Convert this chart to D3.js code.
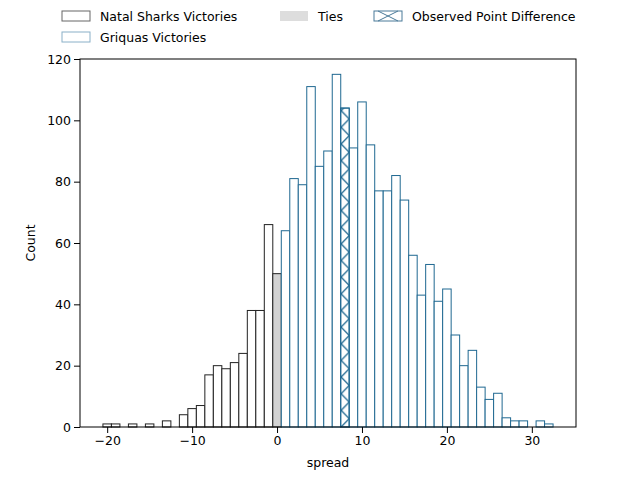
<!DOCTYPE html>
<html><head><meta charset="utf-8">
<script src="https://cdn.jsdelivr.net/npm/d3@7"></script>
<style>body{margin:0;background:#fff}text{font-family:"DejaVu Sans",sans-serif}</style>
</head><body><div id="chart"></div>
<script>
const sharkSpread = [-20,-19,-17,-15,-13,-11,-10,-9,-8,-7,-6,-5,-4,-3,-2,-1];
const sharkCount  = [1,1,1,1,2,4,6,7,17,20,19,21,24,38,38,66];
const tieSpread = [0];
const tieCount = [50];
const griquaSpread = [1,2,3,4,5,6,7,8,9,10,11,12,13,14,15,16,17,18,19,20,21,22,23,24,25,26,27,28,29,31,32];
const griquaCount  = [64,81,79,111,85,90,115,104,91,106,92,77,77,82,74,56,43,53,41,45,30,20,25,13,9,11,3,2,2,2,1];
const observed = 8;
const xTicks = [-20,-10,0,10,20,30];
const yTicks = [0,20,40,60,80,100,120];

const W = 640, H = 480, m = {l:80, r:64, t:59, b:53};
const blue = "#1f6891";
const FS = 12.5;
const svg = d3.select("#chart").append("svg").attr("width", W).attr("height", H);
const defs = svg.append("defs");

const x = d3.scaleLinear().domain([-23.2, 35.2]).range([m.l, W - m.r]);
const y = d3.scaleLinear().domain([0, 120]).range([H - m.b, m.t]);

const pat = defs.append("pattern").attr("id","hx").attr("patternUnits","userSpaceOnUse")
  .attr("width", 16).attr("height", 33.3).attr("x", x(observed+0.5)-8).attr("y", 427);
pat.append("path").attr("d","M0,0L16,16.65L0,33.3M16,0L0,16.65L16,33.3")
  .attr("stroke", blue).attr("stroke-width",1.2).attr("fill","none");

function bars(xs, cs, fill, stroke) {
  svg.append("g").selectAll("rect").data(xs.map((v,i)=>[v,cs[i]])).enter().append("rect")
    .attr("x", d => x(d[0]-0.5)).attr("width", x(1)-x(0))
    .attr("y", d => y(d[1])).attr("height", d => y(0)-y(d[1]))
    .attr("fill", fill).attr("stroke", stroke).attr("stroke-width", 1);
}
bars(sharkSpread, sharkCount, "#fff", "#222");
bars(tieSpread, tieCount, "#d3d3d3", "#222");
bars(griquaSpread, griquaCount, "#fff", blue);
const oi = griquaSpread.indexOf(observed);
svg.append("rect").attr("x", x(observed-0.5)).attr("width", x(1)-x(0))
  .attr("y", y(griquaCount[oi])).attr("height", y(0)-y(griquaCount[oi]))
  .attr("fill","url(#hx)").attr("stroke", blue);

svg.append("g").attr("transform",`translate(0,${H-m.b})`)
  .call(d3.axisBottom(x).tickValues(xTicks).tickSizeOuter(0).tickFormat(d => d < 0 ? "\u2212"+(-d) : d))
  .call(g => g.selectAll("text").attr("font-size",FS).attr("fill","#000"));
svg.append("g").attr("transform",`translate(${m.l},0)`)
  .call(d3.axisLeft(y).tickValues(yTicks).tickSizeOuter(0))
  .call(g => g.selectAll("text").attr("font-size",FS).attr("fill","#000"));
svg.append("rect").attr("x",m.l).attr("y",m.t).attr("width",W-m.l-m.r).attr("height",H-m.t-m.b)
  .attr("fill","none").attr("stroke","#000");
svg.selectAll(".domain").remove();

svg.append("text").attr("x",(m.l+W-m.r)/2).attr("y",467).attr("text-anchor","middle").attr("font-size",FS).text("spread");
svg.append("text").attr("transform",`translate(35,${(m.t+H-m.b)/2}) rotate(-90)`).attr("text-anchor","middle").attr("font-size",FS).text("Count");

const legend = [
  {t:"Natal Sharks Victories", x:62, y:11, fill:"#fff", stroke:"#666"},
  {t:"Ties", x:280, y:11, fill:"#ddd", stroke:"none"},
  {t:"Observed Point Difference", x:374, y:11, fill:"#fff", stroke:"#4a7a99", hatch:true},
  {t:"Griquas Victories", x:62, y:32, fill:"#fff", stroke:"#8ab0c8"}
];
const lg = svg.append("g").selectAll("g").data(legend).enter().append("g");
lg.append("rect").attr("x",d=>d.x).attr("y",d=>d.y).attr("width",28).attr("height",10)
  .attr("fill",d=>d.fill).attr("stroke",d=>d.stroke);
lg.filter(d=>d.hatch).append("path")
  .attr("d",d=>`M${d.x+4},${d.y}L${d.x+24},${d.y+10}M${d.x+4},${d.y+10}L${d.x+24},${d.y}`)
  .attr("stroke","#4a7a99").attr("fill","none");
lg.append("text").attr("x",d=>d.x+38).attr("y",d=>d.y+10).attr("font-size",FS).text(d=>d.t);
</script></body></html>
